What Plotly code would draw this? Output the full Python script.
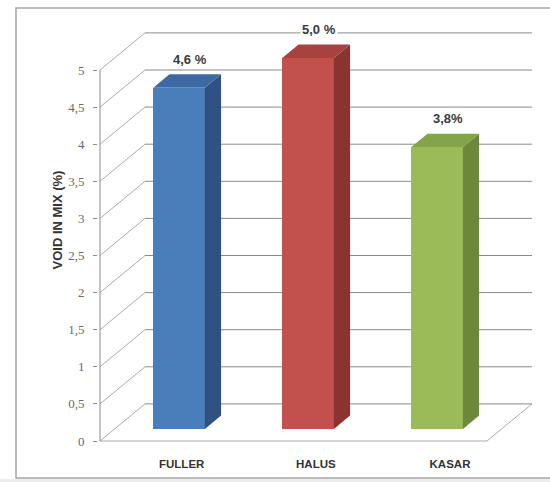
import plotly.graph_objects as go

# ---- data ----
categories = ["FULLER", "HALUS", "KASAR"]
void_values = [4.6, 5.0, 3.8]
value_labels = ["4,6 %", "5,0 %", "3,8%"]
y_ticks = [0, 0.5, 1, 1.5, 2, 2.5, 3, 3.5, 4, 4.5, 5]
y_tick_text = ["0", "0,5", "1", "1,5", "2", "2,5", "3", "3,5", "4", "4,5", "5"]

front_colors = ["#4a7ebb", "#c2504c", "#9bbb59"]
side_colors = ["#2e5282", "#8a3331", "#6c883a"]
top_colors = ["#3e6aa3", "#a8423f", "#84a449"]

# ---- pseudo-3D projection (depth offsets in axis units) ----
KX = 0.349      # horizontal shift of the back wall, in category units
KY = 0.5        # vertical shift of the back wall, in value units
BAR_FRONT = 0.324   # depth of the bar front face (0 = front, 1 = back wall)
BAR_DEPTH = 0.36    # depth thickness of each bar
BAR_W = 0.40
N = len(categories)
X_LEFT, X_RIGHT = -0.5, N - 0.5
V_MAX = 5

# pixel layout of the plotting area
W, H = 550, 482
PX_X0, PX_Y0 = 100, 441      # pixel of (X_LEFT, 0)
PX_PER_CAT, PX_PER_VAL = 129.0, 74.2
ML, MR, MT, MB = 98, 16, 31, 39
x_range = [X_LEFT - (PX_X0 - ML) / PX_PER_CAT,
           X_LEFT + (W - MR - PX_X0) / PX_PER_CAT]
y_range = [-((H - MB) - PX_Y0) / PX_PER_VAL, (PX_Y0 - MT) / PX_PER_VAL]
plot_w = W - ML - MR
plot_h = H - MT - MB


def paper_x(px):
    return (px - ML) / plot_w


def paper_y(py):
    return ((H - MB) - py) / plot_h


fig = go.Figure()

# walls / floor / gridlines drawn beneath the bars
shapes = []
grid_col = "#8a8a8a"
diag_col = "#ababab"
for v in y_ticks:
    shapes.append(dict(type="line", xref="x", yref="y", layer="below",
                       x0=X_LEFT + KX, y0=v + KY, x1=X_RIGHT + KX, y1=v + KY,
                       line=dict(color=grid_col, width=1)))
    shapes.append(dict(type="line", xref="x", yref="y", layer="below",
                       x0=X_LEFT, y0=v, x1=X_LEFT + KX, y1=v + KY,
                       line=dict(color=diag_col, width=1)))
# floor front and right edges
shapes.append(dict(type="line", xref="x", yref="y", layer="below",
                   x0=X_LEFT, y0=0, x1=X_RIGHT, y1=0,
                   line=dict(color=diag_col, width=1)))
shapes.append(dict(type="line", xref="x", yref="y", layer="below",
                   x0=X_RIGHT, y0=0, x1=X_RIGHT + KX, y1=KY,
                   line=dict(color=diag_col, width=1)))
# front value axis line
shapes.append(dict(type="line", xref="x", yref="y", layer="below",
                   x0=X_LEFT, y0=0, x1=X_LEFT, y1=V_MAX,
                   line=dict(color="#8a8a8a", width=1)))
# chart-area frame (open on the right) and lower band
frame = dict(color="#a6a6a6", width=1.5)
shapes.append(dict(type="rect", xref="paper", yref="paper", layer="below",
                   x0=paper_x(0), y0=paper_y(482), x1=paper_x(550), y1=paper_y(479),
                   line=dict(width=0), fillcolor="#ececec"))
fx0, fx1 = paper_x(16), paper_x(551)
fy_top, fy_bot = paper_y(8), paper_y(478)
shapes.append(dict(type="path", xref="paper", yref="paper", layer="below",
                   path=f"M {fx1},{fy_bot} L {fx0},{fy_bot} L {fx0},{fy_top} L {fx1},{fy_top}",
                   line=frame, fillcolor="rgba(0,0,0,0)"))

# bar front faces
base = BAR_FRONT * KY
bar_x = [i + BAR_FRONT * KX for i in range(N)]
fig.add_trace(go.Bar(
    x=bar_x, y=void_values, base=[base] * N, width=BAR_W,
    marker=dict(color=front_colors, line=dict(width=0)),
    hoverinfo="skip", showlegend=False,
))

# side and top faces of each bar
dx, dy = BAR_DEPTH * KX, BAR_DEPTH * KY
for i, v in enumerate(void_values):
    xl = bar_x[i] - BAR_W / 2
    xr = bar_x[i] + BAR_W / 2
    top = base + v
    fig.add_trace(go.Scatter(
        x=[xr, xr, xr + dx, xr + dx, xr], y=[base, top, top + dy, base + dy, base],
        fill="toself", fillcolor=side_colors[i], mode="lines",
        line=dict(width=0, color=side_colors[i]), hoverinfo="skip", showlegend=False,
    ))
    fig.add_trace(go.Scatter(
        x=[xl, xr, xr + dx, xl + dx, xl], y=[top, top, top + dy, top + dy, top],
        fill="toself", fillcolor=top_colors[i], mode="lines",
        line=dict(width=0, color=top_colors[i]), hoverinfo="skip", showlegend=False,
    ))

# value labels above the bars
annotations = []
for i, v in enumerate(void_values):
    annotations.append(dict(
        x=bar_x[i] + dx / 2, y=base + v + dy, xref="x", yref="y",
        text=f"<b>{value_labels[i]}</b>", showarrow=False, yshift=15, xshift=3,
        bgcolor="white", borderpad=1,
        font=dict(family="Liberation Sans, Arial", size=13, color="#3a3a3a"),
    ))

# category labels along the floor
cat_pos = [i + BAR_FRONT * KX + 0.02 + 0.04 * i for i in range(N)]

# value-axis title
annotations.append(dict(
    x=paper_x(47), y=paper_y(220), xref="paper", yref="paper",
    text="<b>VOID IN MIX (%)</b>", textangle=-90, showarrow=False,
    font=dict(family="Liberation Sans, Arial", size=13, color="#333333"),
))

fig.update_layout(
    width=W, height=H,
    margin=dict(l=ML, r=MR, t=MT, b=MB, pad=0),
    paper_bgcolor="white", plot_bgcolor="rgba(0,0,0,0)",
    separators=",.",
    shapes=shapes, annotations=annotations,
    bargap=0,
    xaxis=dict(range=x_range, showgrid=False, zeroline=False, showline=False,
               tickmode="array", tickvals=cat_pos,
               ticktext=[f"<b>{c}</b>" for c in categories],
               ticks="", ticklabelstandoff=12,
               tickfont=dict(family="Liberation Sans, Arial", size=11.5, color="#333333"),
               fixedrange=True),
    yaxis=dict(range=y_range, showgrid=False, zeroline=False, showline=False,
               tickmode="array", tickvals=y_ticks, ticktext=y_tick_text,
               ticks="outside", ticklen=4, tickcolor="#8a8a8a", ticklabelstandoff=6,
               tickfont=dict(family="Liberation Serif, Times New Roman", size=13,
                             color="#6a6a6a"),
               fixedrange=True),
)

fig.write_html("out.html")
